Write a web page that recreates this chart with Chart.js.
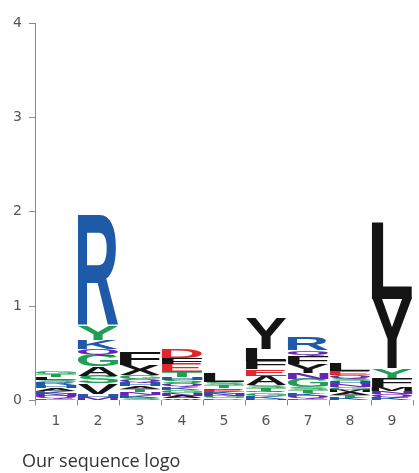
<!DOCTYPE html>
<html>
<head>
<meta charset="utf-8">
<script src="https://cdn.jsdelivr.net/npm/chart.js@4"></script>
<style>
  html, body { margin: 0; padding: 0; background: #ffffff; }
  #wrap { width: 419px; height: 473px; position: relative; }
</style>
</head>
<body>
<div id="wrap"><canvas id="c" width="419" height="473"></canvas></div>
<script>
// ---- data ----
const positions = ['1', '2', '3', '4', '5', '6', '7', '8', '9'];
// residues in each column, bottom -> top
const stackLetters = [
  'EQNKAHRSLTG',
  'MHVSAGQKYR',
  'SKNTAHQGXF',
  'WANGKQSHTEFD',
  'DGNKEQTSL',
  'NKGQTSAEFLY',
  'EQKTSGNYFQR',
  'KTAMGNHSQEL',
  'KQNMFYYL'
];
// letter heights (bits), bottom -> top
const stackHeights = [
  [0.02, 0.03, 0.02, 0.03, 0.03, 0.03, 0.03, 0.03, 0.03, 0.03, 0.03],
  [0.03, 0.04, 0.11, 0.08, 0.10, 0.12, 0.07, 0.09, 0.15, 1.17],
  [0.03, 0.03, 0.03, 0.03, 0.03, 0.04, 0.04, 0.04, 0.11, 0.13],
  [0.02, 0.03, 0.03, 0.03, 0.03, 0.04, 0.04, 0.03, 0.05, 0.09, 0.06, 0.09],
  [0.02, 0.03, 0.02, 0.02, 0.02, 0.02, 0.03, 0.03, 0.10],
  [0.02, 0.03, 0.03, 0.02, 0.03, 0.03, 0.10, 0.07, 0.09, 0.13, 0.32],
  [0.02, 0.03, 0.03, 0.03, 0.03, 0.09, 0.06, 0.10, 0.08, 0.06, 0.13],
  [0.03, 0.03, 0.03, 0.02, 0.03, 0.03, 0.03, 0.03, 0.04, 0.04, 0.08],
  [0.03, 0.04, 0.03, 0.04, 0.10, 0.10, 0.74, 0.81]
];
const yMin = 0;
const yMax = 4;
const yStep = 1;
const titleText = 'Our sequence logo';

// ---- styles ----
const palette = { b: '#1f5aa8', g: '#1f9e55', k: '#141414', r: '#e2262c', p: '#6a22b8' };
const stackColorCodes = [
  'rppbkbbgkgg',
  'pbkgkgpbgb',
  'gbpgkbpgkk',
  'kkpgbpgbgrkr',
  'rgpbrpggk',
  'pbgpggkrkkk',
  'rpbgggpkkpb',
  'bgkkgpbgprk',
  'bppkkgkk'
];

const levels = Math.max(...stackHeights.map(h => h.length));
const datasets = [];
for (let i = 0; i < levels; i++) {
  datasets.push({
    label: 'level ' + (i + 1),
    data: stackHeights.map(h => (h[i] !== undefined ? h[i] : 0)),
    letters: stackLetters.map(s => s[i] || ''),
    colors: stackColorCodes.map(s => palette[s[i]] || '#000'),
    backgroundColor: 'rgba(0,0,0,0)',
    borderWidth: 0,
    barPercentage: 0.96,
    categoryPercentage: 1.0,
    stack: 's'
  });
}

const glyphFont = 'bold 200px "Liberation Sans", Arial, sans-serif';
const logoPlugin = {
  id: 'logoLetters',
  afterDatasetsDraw(chart) {
    const ctx = chart.ctx;
    ctx.save();
    ctx.beginPath();
    ctx.rect(chart.chartArea.left, chart.chartArea.top - 2,
             chart.chartArea.right - chart.chartArea.left,
             chart.chartArea.bottom - chart.chartArea.top + 2);
    ctx.clip();
    chart.data.datasets.forEach((ds, di) => {
      const meta = chart.getDatasetMeta(di);
      meta.data.forEach((el, j) => {
        const letter = ds.letters[j];
        if (!letter) return;
        const p = el.getProps(['x', 'y', 'base', 'width'], true);
        const top = Math.min(p.y, p.base);
        const h = Math.abs(p.base - p.y);
        if (h < 0.3) return;
        const w = p.width;
        ctx.font = glyphFont;
        ctx.textAlign = 'left';
        ctx.textBaseline = 'alphabetic';
        const m = ctx.measureText(letter);
        const gw = m.actualBoundingBoxLeft + m.actualBoundingBoxRight;
        const gh = m.actualBoundingBoxAscent + m.actualBoundingBoxDescent;
        ctx.save();
        ctx.translate(p.x - w / 2, top);
        ctx.scale(w / gw, h / gh);
        ctx.fillStyle = ds.colors[j];
        ctx.fillText(letter, m.actualBoundingBoxLeft, m.actualBoundingBoxAscent);
        ctx.restore();
      });
    });
    ctx.restore();
  }
};

// move the bottom title so it starts a little left of the plot, like the reference
const titleShift = {
  id: 'titleShift',
  afterLayout(chart) {
    const t = chart.titleBlock;
    if (t) {
      const w = t.right - t.left;
      t.left = 22;
      t.right = 22 + w;
    }
  }
};

new Chart(document.getElementById('c'), {
  type: 'bar',
  data: { labels: positions, datasets: datasets },
  plugins: [logoPlugin, titleShift],
  options: {
    responsive: false,
    animation: false,
    devicePixelRatio: 1,
    layout: { padding: { left: 0, right: 6, top: 23, bottom: 0 } },
    plugins: {
      legend: { display: false },
      tooltip: { enabled: false },
      title: {
        display: true,
        text: titleText,
        position: 'bottom',
        align: 'start',
        color: '#333333',
        font: { family: '"Open Sans", sans-serif', size: 18, weight: 'normal' },
        padding: { top: 21, bottom: 0 }
      }
    },
    scales: {
      x: {
        stacked: true,
        offset: true,
        grid: { display: true, drawOnChartArea: false, drawTicks: true, tickLength: 5, color: '#8a8a8a' },
        border: { display: false },
        ticks: { color: '#555555', padding: 8, font: { family: '"DejaVu Sans", sans-serif', size: 14 } },
        afterFit: s => { s.height = 30; }
      },
      y: {
        stacked: true,
        min: yMin,
        max: yMax,
        grid: { display: true, drawOnChartArea: false, drawTicks: true, tickLength: 6, color: '#8a8a8a' },
        border: { display: true, color: '#8a8a8a', width: 1 },
        ticks: { stepSize: yStep, color: '#555555', padding: 7, font: { family: '"DejaVu Sans", sans-serif', size: 14 } },
        afterFit: s => { s.width = 35; }
      }
    }
  }
});
</script>
</body>
</html>
